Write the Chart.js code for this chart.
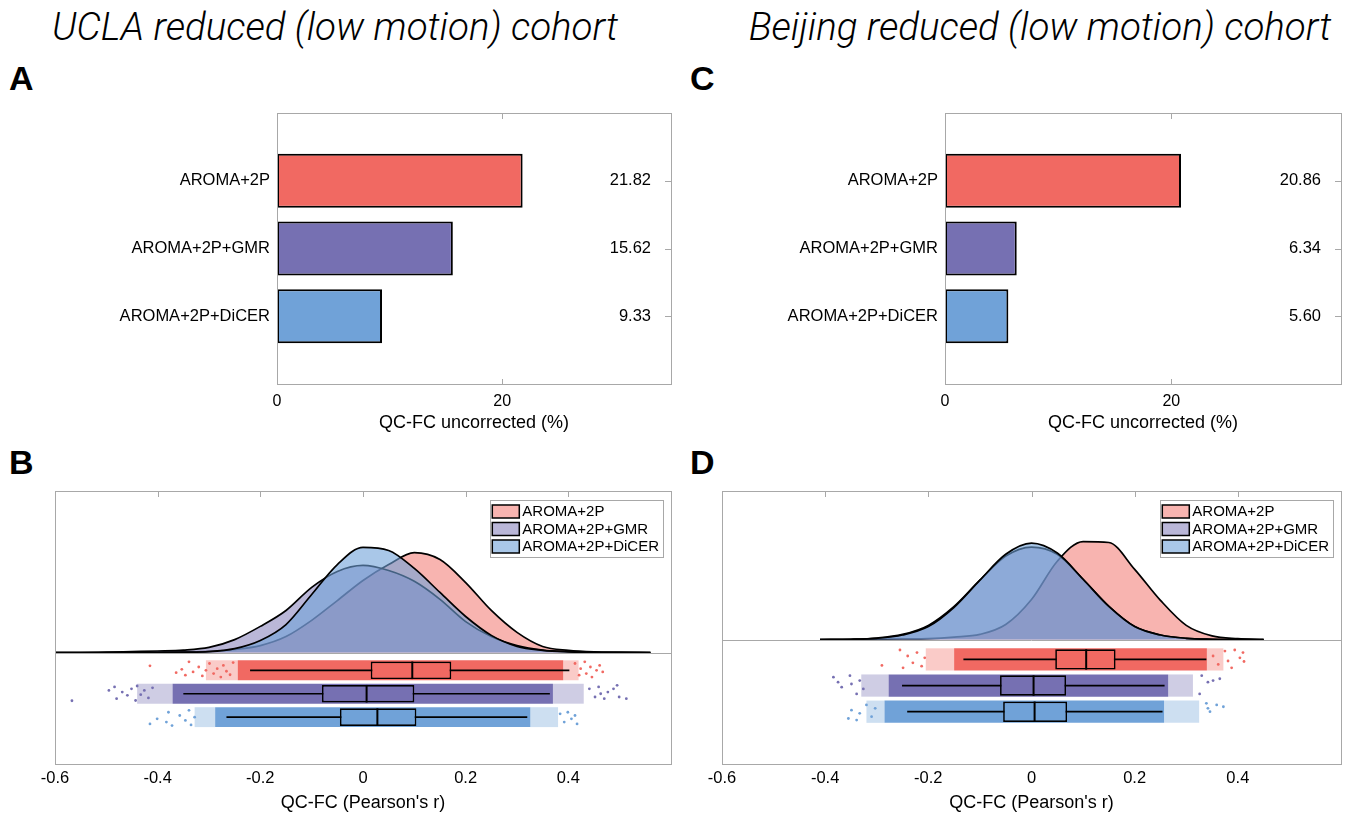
<!DOCTYPE html>
<html>
<head>
<meta charset="utf-8">
<script src="https://cdn.jsdelivr.net/npm/chart.js@4.4.1/dist/chart.umd.min.js"></script>
<style>
  body { margin: 0; background: #fff; width: 1348px; height: 815px; position: relative; overflow: hidden; }
  canvas { position: absolute; }
  .cohort { position: absolute; width: 800px; text-align: center; font-family: Roboto, "Liberation Sans", sans-serif;
            font-style: italic; font-weight: 300; font-size: 38.5px; line-height: 1; color: #000; }
  .letter { position: absolute; font-family: "Liberation Sans", Arial, sans-serif; font-weight: bold; font-size: 34px; line-height: 1; }
</style>
</head>
<body>
<div class="cohort" style="left:-65px; top:8px">UCLA reduced (low motion) cohort</div>
<div class="cohort" style="left:640px; top:8px">Beijing reduced (low motion) cohort</div>
<div class="letter" style="left:9px; top:61px">A</div>
<div class="letter" style="left:9px; top:445px">B</div>
<div class="letter" style="left:690px; top:61px">C</div>
<div class="letter" style="left:690px; top:445px">D</div>

<canvas id="chartA" width="690" height="345" style="left:0; top:95px"></canvas>
<canvas id="chartB" width="690" height="335" style="left:0; top:480px"></canvas>
<canvas id="chartC" width="658" height="345" style="left:690px; top:95px"></canvas>
<canvas id="chartD" width="658" height="335" style="left:690px; top:480px"></canvas>

<script>
const FONT = '"Liberation Sans", Arial, sans-serif';

const methods = ["AROMA+2P", "AROMA+2P+GMR", "AROMA+2P+DiCER"];
const solid = ["#F16962", "#7670B2", "#70A2D8"];
const soft = ["rgba(241,105,98,0.5)", "rgba(118,112,178,0.5)", "rgba(112,162,216,0.6)"];
const faint = ["rgba(241,105,98,0.35)", "rgba(118,112,178,0.35)", "rgba(112,162,216,0.35)"];

// top panels: % of edges with significant QC-FC (uncorrected)
const uclaUncorrected = [21.82, 15.62, 9.33];
const beijingUncorrected = [20.86, 6.34, 5.60];
const pctTicks = [0, 20];

// bottom panels: QC-FC distributions
const rTicks = [-0.6, -0.4, -0.2, 0, 0.2, 0.4];

const uclaGrid = [-0.60, -0.55, -0.50, -0.45, -0.40, -0.35, -0.30, -0.25, -0.20, -0.15, -0.10, -0.05,
                  0.00, 0.05, 0.10, 0.15, 0.20, 0.25, 0.30, 0.35, 0.40, 0.45, 0.50, 0.56];
const uclaDensAroma = [0, 0, 0, 0, 0.01, 0.02, 0.04, 0.10, 0.23, 0.53, 1.07, 1.73,
                       2.40, 2.93, 3.33, 3.10, 2.33, 1.40, 0.67, 0.20, 0.07, 0.02, 0.01, 0];
const uclaDensGmr = [0, 0, 0.01, 0.03, 0.05, 0.08, 0.17, 0.43, 0.87, 1.40, 2.17, 2.70,
                     2.90, 2.73, 2.37, 1.77, 1.03, 0.53, 0.23, 0.08, 0.03, 0.01, 0, 0];
const uclaDensDicer = [0, 0, 0, 0, 0, 0.01, 0.03, 0.13, 0.40, 0.93, 1.93, 2.93,
                       3.50, 3.40, 2.80, 2.00, 1.20, 0.57, 0.20, 0.07, 0.02, 0, 0, 0];

const beijingGrid = [-0.41, -0.35, -0.30, -0.25, -0.20, -0.15, -0.10, -0.05, 0.00,
                     0.05, 0.10, 0.15, 0.20, 0.25, 0.30, 0.35, 0.40, 0.45];
const beijingDensAroma = [0, 0, 0.01, 0.02, 0.03, 0.08, 0.17, 0.50, 1.33,
                          2.60, 3.25, 3.22, 2.33, 1.30, 0.47, 0.12, 0.03, 0];
const beijingDensGmr = [0, 0.01, 0.05, 0.17, 0.47, 1.10, 1.97, 2.77, 3.07,
                        2.83, 2.00, 1.10, 0.43, 0.15, 0.04, 0.01, 0, 0];
const beijingDensDicer = [0, 0.01, 0.04, 0.15, 0.43, 1.07, 1.97, 2.83, 3.20,
                          2.87, 2.00, 1.10, 0.43, 0.15, 0.04, 0.01, 0, 0];

// box plots (per method)
const uclaQ1 = [0.015, -0.080, -0.045];
const uclaMedian = [0.096, 0.007, 0.028];
const uclaQ3 = [0.172, 0.100, 0.104];
const uclaWhiskLo = [-0.220, -0.350, -0.266];
const uclaWhiskHi = [0.402, 0.364, 0.320];

const beijingQ1 = [0.046, -0.061, -0.055];
const beijingMedian = [0.106, 0.004, 0.006];
const beijingQ3 = [0.163, 0.067, 0.069];
const beijingWhiskLo = [-0.132, -0.251, -0.241];
const beijingWhiskHi = [0.339, 0.258, 0.254];

// dense part of the jittered clouds, and the thinner fringe either side
const uclaFringeLo = [-0.306, -0.440, -0.328];
const uclaCoreLo = [-0.244, -0.371, -0.288];
const uclaCoreHi = [0.390, 0.370, 0.326];
const uclaFringeHi = [0.420, 0.430, 0.380];

const beijingFringeLo = [-0.205, -0.330, -0.320];
const beijingCoreLo = [-0.150, -0.277, -0.285];
const beijingCoreHi = [0.340, 0.265, 0.257];
const beijingFringeHi = [0.372, 0.313, 0.325];

// sparse outlying dots: [r, vertical jitter in row units]
const uclaDotsAroma = [[-0.415, -0.19], [-0.364, 0.10], [-0.353, -0.04], [-0.346, 0.21], [-0.339, -0.36],
  [-0.331, 0.07], [-0.320, -0.14], [-0.313, 0.24], [-0.306, 0.0], [-0.299, -0.29], [-0.291, 0.14],
  [-0.284, -0.07], [-0.277, 0.29], [-0.272, -0.21], [-0.266, 0.04], [-0.259, 0.19], [-0.253, -0.33],
  [0.413, -0.29], [0.421, 0.21], [0.424, -0.07], [0.432, -0.36], [0.435, 0.14], [0.443, -0.14],
  [0.446, 0.29], [0.455, 0.0], [0.461, -0.21], [0.467, 0.07]];
const uclaDotsGmr = [[-0.567, 0.30], [-0.495, -0.14], [-0.484, -0.29], [-0.480, 0.21], [-0.469, -0.07],
  [-0.459, 0.07], [-0.451, -0.21], [-0.443, 0.29], [-0.440, -0.33], [-0.433, 0.04], [-0.426, -0.14],
  [-0.418, 0.18], [-0.410, -0.25], [0.441, -0.21], [0.452, 0.14], [0.459, -0.29], [0.463, 0.0],
  [0.470, 0.21], [0.477, -0.07], [0.488, -0.21], [0.495, -0.36], [0.499, 0.14], [0.513, 0.21]];
const uclaDotsDicer = [[-0.415, 0.29], [-0.401, 0.07], [-0.383, 0.21], [-0.379, -0.21], [-0.372, 0.36],
  [-0.357, -0.07], [-0.346, 0.14], [-0.339, -0.29], [-0.335, 0.33], [-0.328, 0.0],
  [0.384, -0.14], [0.392, 0.21], [0.399, -0.21], [0.406, 0.07], [0.413, -0.07], [0.417, 0.29]];

const beijingDotsAroma = [[-0.290, 0.23], [-0.255, -0.36], [-0.249, 0.32], [-0.240, -0.13], [-0.230, 0.13],
  [-0.222, -0.26], [-0.213, 0.26], [-0.207, -0.06], [0.352, -0.13], [0.362, 0.19], [0.375, -0.32],
  [0.381, 0.06], [0.388, 0.32], [0.394, -0.36], [0.404, -0.06], [0.410, -0.26], [0.412, 0.08]];
const beijingDotsGmr = [[-0.384, -0.32], [-0.375, -0.13], [-0.368, 0.06], [-0.352, -0.38], [-0.349, -0.06],
  [-0.339, 0.32], [-0.333, -0.19], [-0.326, 0.13], [0.326, 0.32], [0.330, -0.38], [0.342, -0.13],
  [0.352, -0.19], [0.365, -0.26]];
const beijingDotsDicer = [[-0.355, 0.26], [-0.349, -0.06], [-0.339, 0.32], [-0.333, 0.06], [-0.320, -0.26],
  [-0.310, 0.19], [-0.303, -0.13], [0.339, -0.32], [0.342, -0.13], [0.346, 0.0], [0.359, -0.26], [0.372, -0.19]];

const GRAY = "#a8a8a8";

// box frame with MATLAB-like inward ticks
const framePlugin = {
  id: "frame",
  afterDraw(chart, args, opts) {
    const { ctx, chartArea: a } = chart;
    const x = chart.scales.x;
    ctx.save();
    ctx.strokeStyle = GRAY;
    ctx.lineWidth = 1;
    ctx.strokeRect(Math.round(a.left) + 0.5, Math.round(a.top) + 0.5, Math.round(a.right - a.left), Math.round(a.bottom - a.top));
    ctx.beginPath();
    (opts.topTicks || []).forEach(v => {
      const px = Math.round(x.getPixelForValue(v)) + 0.5;
      ctx.moveTo(px, a.top); ctx.lineTo(px, a.top + 6);
    });
    (opts.bottomTicks || []).forEach(v => {
      const px = Math.round(x.getPixelForValue(v)) + 0.5;
      ctx.moveTo(px, a.bottom); ctx.lineTo(px, a.bottom - 5);
    });
    if (opts.rightTicks) {
      const y = chart.scales.y;
      opts.rightTicks.forEach(i => {
        const py = Math.round(y.getPixelForValue(i)) + 0.5;
        ctx.moveTo(a.right, py); ctx.lineTo(a.right - 6, py);
      });
    }
    if (opts.separator) {
      const py = Math.round(chart.scales.y.getPixelForValue(0)) + 0.5;
      ctx.moveTo(a.left, py); ctx.lineTo(a.right, py);
    }
    ctx.stroke();
    ctx.restore();
  }
};

// numbers printed at the right of the bar panels
const valueLabelPlugin = {
  id: "valueLabels",
  afterDraw(chart, args, opts) {
    const { ctx, chartArea: a } = chart;
    const y = chart.scales.y;
    ctx.save();
    ctx.font = "16.5px " + FONT;
    ctx.fillStyle = "#000";
    ctx.textAlign = "right";
    ctx.textBaseline = "middle";
    opts.values.forEach((v, i) => {
      ctx.fillText(v.toFixed(2), a.right - 20, y.getPixelForValue(i + 1));
    });
    ctx.restore();
  }
};

// boxed legend in the top right of the density panels
const boxLegendPlugin = {
  id: "boxLegend",
  afterDraw(chart) {
    const { ctx, chartArea: a } = chart;
    const items = chart.data.datasets.filter(d => d.legendEntry);
    ctx.save();
    ctx.font = "15px " + FONT;
    const textW = Math.max(...items.map(d => ctx.measureText(d.label).width));
    const w = 32 + textW + 4, h = 57;
    const left = a.right - 8 - w, top = a.top + 9;
    ctx.fillStyle = "#fff";
    ctx.fillRect(left, top, w, h);
    ctx.strokeStyle = GRAY;
    ctx.lineWidth = 1;
    ctx.strokeRect(Math.round(left) + 0.5, top + 0.5, Math.round(w), h);
    items.forEach((d, i) => {
      const cy = top + 11.5 + i * 17.5;
      ctx.fillStyle = d.backgroundColor;
      ctx.fillRect(left + 2, cy - 6.5, 27, 13);
      ctx.strokeStyle = "#000";
      ctx.lineWidth = 1.5;
      ctx.strokeRect(left + 2, cy - 6.5, 27, 13);
      ctx.fillStyle = "#000";
      ctx.textBaseline = "middle";
      ctx.fillText(d.label, left + 32, cy + 0.5);
    });
    ctx.restore();
  }
};

function barChart(id, values, yWidth, padRight) {
  return new Chart(document.getElementById(id), {
    type: "bar",
    data: {
      labels: ["", ...methods, ""],
      datasets: [{
        data: [null, ...values, null],
        backgroundColor: ["#fff", ...solid, "#fff"],
        borderColor: "#000",
        borderWidth: 2,
        borderSkipped: false,
        barPercentage: 0.8,
        categoryPercentage: 1
      }]
    },
    options: {
      indexAxis: "y",
      responsive: false,
      animation: false,
      layout: { padding: { left: 0, right: padRight, top: 18, bottom: 0 } },
      plugins: {
        legend: { display: false },
        tooltip: { enabled: false },
        frame: { topTicks: [20], bottomTicks: [20], rightTicks: [1, 2, 3] },
        valueLabels: { values }
      },
      scales: {
        x: {
          type: "linear", min: 0, max: 35,
          afterBuildTicks: s => { s.ticks = pctTicks.map(v => ({ value: v })); },
          afterFit: s => { s.height = 56; },
          grid: { display: false, drawTicks: false }, border: { display: false },
          ticks: { color: "#000", font: { family: FONT, size: 16 }, padding: 8 },
          title: { display: true, text: "QC-FC uncorrected (%)", color: "#000",
                   font: { family: FONT, size: 18 }, padding: { top: 0, bottom: 6 } }
        },
        y: {
          type: "category", offset: false,
          afterFit: s => { s.width = yWidth; },
          grid: { display: false, drawTicks: false }, border: { display: false },
          ticks: { autoSkip: false, color: "#000", font: { family: FONT, size: 16.5 }, padding: 7 }
        }
      }
    },
    plugins: [framePlugin, valueLabelPlugin]
  });
}

function rainChart(id, d) {
  const rows = [1, 2, 3];
  const rowsMin = 0.24, rowsMax = 5.0;
  const dens = [d.densAroma, d.densGmr, d.densDicer];
  const dots = [d.dotsAroma, d.dotsGmr, d.dotsDicer];
  const datasets = [];

  dens.forEach((vals, i) => {
    datasets.push({
      type: "line", label: methods[i], legendEntry: true, yAxisID: "y",
      data: d.grid.map((x, k) => ({ x, y: vals[k] })),
      fill: "origin", backgroundColor: soft[i], borderColor: "#000", borderWidth: 1.7,
      pointRadius: 0, cubicInterpolationMode: "monotone", order: 13 - i
    });
  });

  const rowBar = (lo, hi, colors, pct, order, extra) => Object.assign({
    type: "bar", indexAxis: "y", yAxisID: "yr", grouped: false,
    data: rows.map((r, i) => ({ y: r, x: [lo[i], hi[i]] })),
    backgroundColor: colors, borderWidth: 0, barPercentage: pct, categoryPercentage: 1, order
  }, extra || {});

  datasets.push(rowBar(d.fringeLo, d.coreLo, faint, d.band, 8));
  datasets.push(rowBar(d.coreHi, d.fringeHi, faint, d.band, 8));
  datasets.push(rowBar(d.coreLo, d.coreHi, solid, d.band, 7));

  dots.forEach((pts, i) => {
    datasets.push({
      type: "scatter", yAxisID: "yr",
      data: pts.map(p => ({ x: p[0], y: rows[i] + p[1] })),
      pointRadius: 1.4, pointBorderWidth: 0, pointBackgroundColor: solid[i], order: 6
    });
    datasets.push({
      type: "line", yAxisID: "yr",
      data: [{ x: d.whiskLo[i], y: rows[i] }, { x: d.whiskHi[i], y: rows[i] }],
      borderColor: "#000", borderWidth: 1.7, pointRadius: 0, order: 5
    });
  });

  datasets.push(rowBar(d.q1, d.q3, solid, d.box, 4,
    { borderColor: "#000", borderWidth: 1.7, borderSkipped: false }));

  datasets.push({
    type: "scatter", yAxisID: "yr",
    data: rows.map((r, i) => ({ x: d.median[i], y: r })),
    pointStyle: "line", pointRotation: 90,
    pointRadius: ctx => {
      const s = ctx.chart.scales.yr;
      return Math.abs(s.getPixelForValue(1) - s.getPixelForValue(0)) * d.box / 2;
    },
    pointBorderColor: "#000", pointBorderWidth: 2, order: 3
  });

  // both y scales span the whole plot: densities above the zero line, rows below it
  const share = d.densPx / d.rowsPx;
  return new Chart(document.getElementById(id), {
    type: "line",
    data: { datasets },
    options: {
      responsive: false,
      animation: false,
      layout: { padding: { left: d.padLeft, right: d.padRight, top: 11, bottom: 0 } },
      plugins: {
        legend: { display: false },
        tooltip: { enabled: false },
        frame: { topTicks: [-0.4, -0.2, 0, 0.2, 0.4], separator: true }
      },
      scales: {
        x: {
          type: "linear", min: -0.6, max: 0.6,
          afterBuildTicks: s => { s.ticks = rTicks.map(v => ({ value: v })); },
          afterFit: s => { s.height = 51; },
          grid: { display: false, drawTicks: false }, border: { display: false },
          ticks: { color: "#000", font: { family: FONT, size: 16.5 }, padding: 5 },
          title: { display: true, text: "QC-FC (Pearson's r)", color: "#000",
                   font: { family: FONT, size: 18 }, padding: { top: 0, bottom: 1 } }
        },
        yr: {
          type: "linear", display: false, reverse: true, offset: false,
          min: rowsMin - share * (rowsMax - rowsMin), max: rowsMax,
          afterBuildTicks: s => { s.ticks = rows.map(v => ({ value: v })); }
        },
        y: {
          type: "linear", display: false, offset: false, min: -d.densMax / share, max: d.densMax,
          afterBuildTicks: s => { s.ticks = [{ value: 0 }, { value: d.densMax }]; }
        }
      }
    },
    plugins: [framePlugin, boxLegendPlugin]
  });
}

barChart("chartA", uclaUncorrected, 277, 19);
barChart("chartC", beijingUncorrected, 255, 7);

rainChart("chartB", {
  grid: uclaGrid, densAroma: uclaDensAroma, densGmr: uclaDensGmr, densDicer: uclaDensDicer,
  q1: uclaQ1, median: uclaMedian, q3: uclaQ3, whiskLo: uclaWhiskLo, whiskHi: uclaWhiskHi,
  fringeLo: uclaFringeLo, coreLo: uclaCoreLo, coreHi: uclaCoreHi, fringeHi: uclaFringeHi,
  dotsAroma: uclaDotsAroma, dotsGmr: uclaDotsGmr, dotsDicer: uclaDotsDicer,
  densMax: 5.38, densPx: 161.5, rowsPx: 111.5, band: 0.85, box: 0.75,
  padLeft: 55, padRight: 19
});

rainChart("chartD", {
  grid: beijingGrid, densAroma: beijingDensAroma, densGmr: beijingDensGmr, densDicer: beijingDensDicer,
  q1: beijingQ1, median: beijingMedian, q3: beijingQ3, whiskLo: beijingWhiskLo, whiskHi: beijingWhiskHi,
  fringeLo: beijingFringeLo, coreLo: beijingCoreLo, coreHi: beijingCoreHi, fringeHi: beijingFringeHi,
  dotsAroma: beijingDotsAroma, dotsGmr: beijingDotsGmr, dotsDicer: beijingDotsDicer,
  densMax: 4.93, densPx: 148, rowsPx: 124, band: 0.85, box: 0.78,
  padLeft: 32, padRight: 7
});
</script>
</body>
</html>
